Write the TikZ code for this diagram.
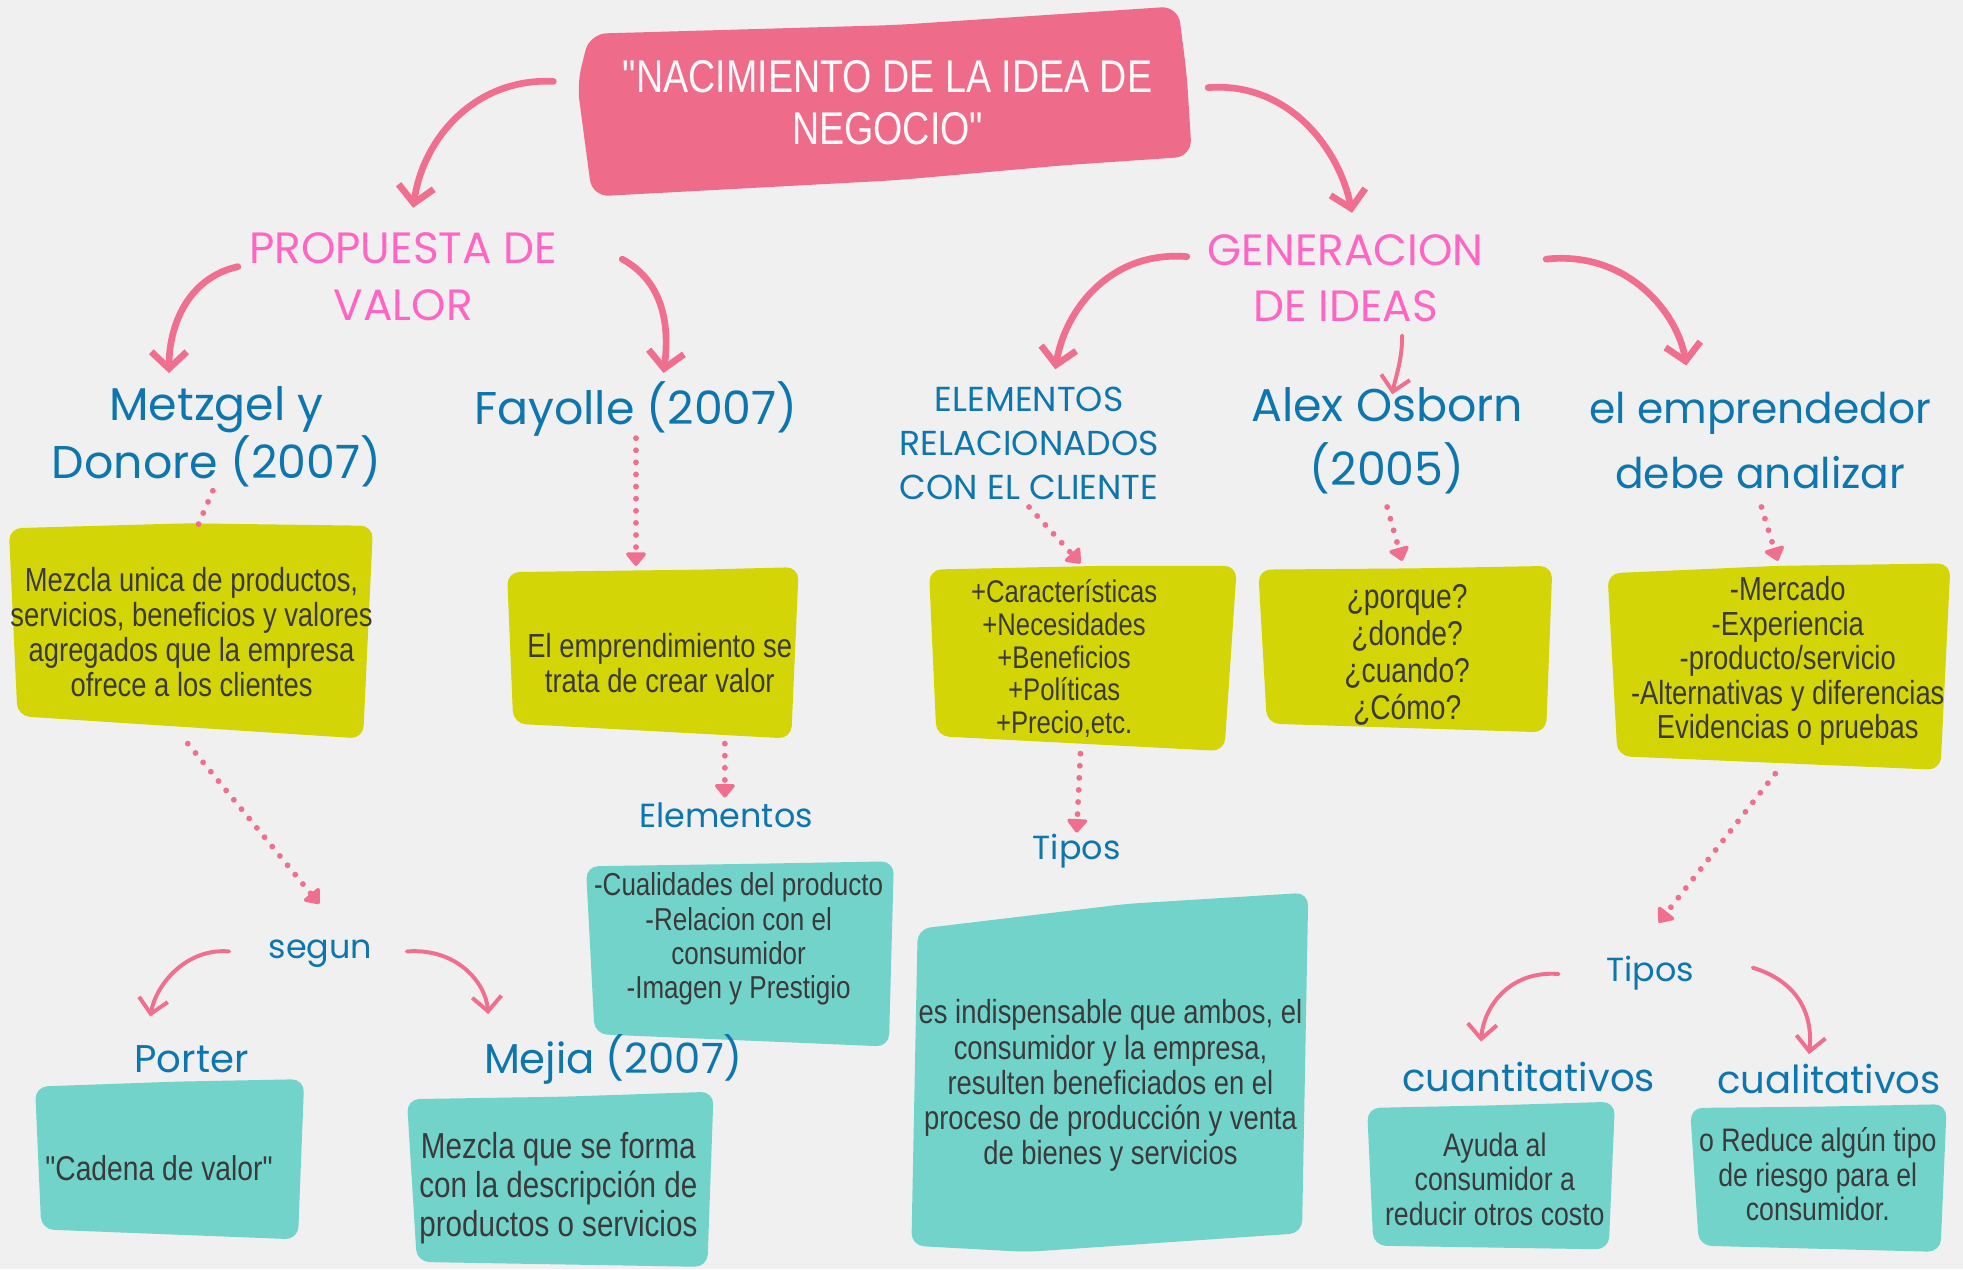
\documentclass[tikz,border=0pt]{standalone}
\usepackage{fontspec}
\usetikzlibrary{arrows.meta}
\newfontfamily\bodyfont{Liberation Sans}[FakeStretch=0.82]
\newfontfamily\headfont{Poppins}
\definecolor{bggray}{RGB}{240,240,240}
\definecolor{titlepink}{RGB}{239,107,138}
\definecolor{arrpink}{RGB}{240,110,142}
\definecolor{headpink}{RGB}{255,102,196}
\definecolor{headblue}{RGB}{14,118,174}
\definecolor{boxyellow}{RGB}{212,213,6}
\definecolor{boxteal}{RGB}{114,211,202}
\definecolor{textgray}{RGB}{58,58,58}

\tikzset{
  maintitle/.style={text=white!96!gray, inner sep=0pt, align=center, font=\bodyfont\fontsize{22}{24.6}\selectfont},
  pinkhead/.style={text=headpink, inner sep=0pt, align=center, font=\headfont\fontsize{21}{27}\selectfont},
  bluehead/.style={text=headblue, inner sep=0pt, align=center, font=\headfont\fontsize{22}{31}\selectfont},
  bluecaps/.style={text=headblue, inner sep=0pt, align=center, font=\headfont\fontsize{16.6}{21}\selectfont},
  bluemid/.style={text=headblue, inner sep=0pt, font=\headfont\fontsize{18.5}{20}\selectfont},
  bluesmall/.style={text=headblue, inner sep=0pt, font=\headfont\fontsize{16}{18}\selectfont},
  boxtext/.style={text=textgray, inner sep=0pt, align=center, font=\bodyfont\fontsize{16}{16.8}\selectfont},
  bigarr/.style={draw=arrpink, line width=3.2pt, line cap=round, -{Straight Barb[length=8pt,width=17pt]}},
  thinarr/.style={draw=arrpink, line width=1.9pt, line cap=round, -{Straight Barb[length=7pt,width=14pt]}},
  dotline/.style={draw=arrpink, line width=2.8pt, line cap=round, dash pattern=on 0pt off 5.8pt},
  dotarr/.style={dotline, -{Triangle[length=7pt,width=11pt,round]}}
}

\begin{document}
\begin{tikzpicture}[x=0.6pt, y=-0.6pt]

  \useasboundingbox (0,0) rectangle (1568,1014);
  \fill[bggray] (0,0) rectangle (1568,1014);

  %% rough boxes
  \fill[titlepink, rounded corners=8pt] (471,27) -- (715,20) -- (941,5) -- (948,60) -- (952,125) -- (850,132) -- (715,144) -- (473,157) -- (461,67) -- cycle;

  \fill[boxyellow, rounded corners=6pt] (7,422) -- (150,418) -- (298,420) -- (290,590) -- (14,572) -- cycle;
  \fill[boxyellow, rounded corners=6pt] (405,457) -- (560,455) -- (638,453) -- (632,590) -- (410,578) -- cycle;
  \fill[boxyellow, rounded corners=6pt] (742,455) -- (880,452) -- (988,452) -- (978,600) -- (748,588) -- cycle;
  \fill[boxyellow, rounded corners=6pt] (1005,455) -- (1130,454) -- (1240,452) -- (1235,585) -- (1012,578) -- cycle;
  \fill[boxyellow, rounded corners=6pt] (1284,458) -- (1420,452) -- (1558,450) -- (1550,615) -- (1292,604) -- cycle;

  \fill[boxteal, rounded corners=6pt] (468,692) -- (600,690) -- (714,688) -- (710,836) -- (475,826) -- cycle;
  \fill[boxteal, rounded corners=6pt] (733,742) -- (900,722) -- (1045,713) -- (1040,985) -- (820,1000) -- (728,995) -- cycle;
  \fill[boxteal, rounded corners=6pt] (28,868) -- (140,864) -- (243,862) -- (238,990) -- (33,982) -- cycle;
  \fill[boxteal, rounded corners=6pt] (325,878) -- (450,876) -- (570,872) -- (565,1012) -- (333,1008) -- cycle;
  \fill[boxteal, rounded corners=6pt] (1092,885) -- (1190,883) -- (1290,880) -- (1285,998) -- (1097,995) -- cycle;
  \fill[boxteal, rounded corners=6pt] (1350,885) -- (1450,884) -- (1555,882) -- (1550,1000) -- (1357,995) -- cycle;

  %% headings
  \node[maintitle] (title) at (709,82) {"NACIMIENTO DE LA IDEA DE\\NEGOCIO"};

  \node[pinkhead] (prop) at (322,221) {PROPUESTA DE\\VALOR};
  \node[pinkhead] (gen) at (1075,222) {GENERACION\\DE IDEAS};

  \node[bluehead, font=\headfont\fontsize{22}{23.4}\selectfont] (metz) at (173,349) {Metzgel y\\Donore (2007)};
  \node[bluehead] (fay) at (508,327) {Fayolle (2007)};
  \node[bluecaps] (elrel) at (822,354) {ELEMENTOS\\RELACIONADOS\\CON EL CLIENTE};
  \node[bluehead] (alex) at (1108,352) {Alex Osborn\\(2005)};
  \node[bluehead, font=\headfont\fontsize{20.3}{31}\selectfont] (emp) at (1406,352) {el emprendedor\\debe analizar};

  \node[bluesmall] (segun) at (256,762) {segun};
  \node[bluesmall] (elem) at (580,651) {Elementos};
  \node[bluesmall] (tipos1) at (860,680) {Tipos};
  \node[bluesmall] (tipos2) at (1318,777) {Tipos};
  \node[bluemid] (porter) at (153,846) {Porter};
  \node[bluemid, font=\headfont\fontsize{20}{20}\selectfont] (mejia) at (490,846) {Mejia (2007)};
  \node[bluemid] (cuant) at (1221,860) {cuantitativos};
  \node[bluemid] (cual) at (1461,862) {cualitativos};

  %% box texts
  \node[boxtext] (b1) at (153,505) {Mezcla unica de productos,\\servicios, beneficios y valores\\agregados que la empresa\\ofrece a los clientes};
  \node[boxtext] (b2) at (527,530) {El emprendimiento se\\trata de crear valor};
  \node[boxtext, font=\bodyfont\fontsize{15}{15.6}\selectfont] (b3) at (850,526) {+Características\\+Necesidades\\+Beneficios\\+Políticas\\+Precio,etc.};
  \node[boxtext, font=\bodyfont\fontsize{16.5}{17.7}\selectfont] (b4) at (1124,523) {¿porque?\\¿donde?\\¿cuando?\\¿Cómo?};
  \node[boxtext, font=\bodyfont\fontsize{16}{16.6}\selectfont] (b5) at (1428,528) {-Mercado\\-Experiencia\\-producto/servicio\\-Alternativas y diferencias\\Evidencias o pruebas};

  \node[boxtext, font=\bodyfont\fontsize{15.2}{16.4}\selectfont] (t1) at (590,750) {-Cualidades del producto\\-Relacion con el\\consumidor\\-Imagen y Prestigio};
  \node[boxtext] (t2) at (887,867) {es indispensable que ambos, el\\consumidor y la empresa,\\resulten beneficiados en el\\proceso de producción y venta\\de bienes y servicios};
  \node[boxtext, font=\bodyfont\fontsize{16.5}{17}\selectfont] (t3) at (127,933) {"Cadena de valor"};
  \node[boxtext, font=\bodyfont\fontsize{17.3}{18.6}\selectfont] (t4) at (446,949) {Mezcla que se forma\\con la descripción de\\productos o servicios};
  \node[boxtext, font=\bodyfont\fontsize{15.6}{16.5}\selectfont] (t5) at (1194,942) {Ayuda al\\consumidor a\\reducir otros costo};
  \node[boxtext, font=\bodyfont\fontsize{15.6}{16.5}\selectfont] (t6) at (1452,938) {o Reduce algún tipo\\de riesgo para el\\consumidor.};

  %% curved arrows
  \draw[bigarr] ([shift={(-267,-17)}]title.center) .. controls +(-62,-3) and +(8,-56) .. ([shift={(8,-55)}]prop.center); %% title->prop
  \draw[bigarr] ([shift={(256,-12)}]title.center) .. controls +(65,-5) and +(-10,-50) .. ([shift={(5,-52)}]gen.center); %% title->gen
  \draw[bigarr] ([shift={(-132,-8)}]prop.center) .. controls +(-40,9) and +(0,-38) .. ([shift={(-38,-51)}]metz.center); %% prop->metz
  \draw[bigarr] ([shift={(175,-14)}]prop.center) .. controls +(33,18) and +(5,-38) .. ([shift={(22,-29)}]fay.center); %% prop->fay
  \draw[bigarr] ([shift={(-127,-17)}]gen.center) .. controls +(-63,-5) and +(7,-45) .. ([shift={(21,-59)}]elrel.center); %% gen->elrel
  \draw[thinarr] ([shift={(45,46)}]gen.center) .. controls +(0,20) and +(3,-15) .. ([shift={(4,-37)}]alex.center); %% gen->alex
  \draw[bigarr] ([shift={(160,-15)}]gen.center) .. controls +(65,-7) and +(-7,-42) .. ([shift={(-59,-60)}]emp.center); %% gen->emp

  \draw[thinarr] ([shift={(-73,-2)}]segun.center) .. controls +(-33,-3) and +(5,-27) .. ([shift={(-33,-34)}]porter.center); %% segun->porter
  \draw[thinarr] ([shift={(69,-2)}]segun.center) .. controls +(40,-3) and +(-2,-25) .. ([shift={(-100,-36)}]mejia.center); %% segun->mejia
  \draw[thinarr] ([shift={(-73,1)}]tipos2.center) .. controls +(-40,-3) and +(2,-27) .. ([shift={(-38,-28)}]cuant.center); %% tipos->cuant
  \draw[thinarr] ([shift={(82,-4)}]tipos2.center) .. controls +(40,12) and +(3,-27) .. ([shift={(-16,-20)}]cual.center); %% tipos->cual

  %% dotted arrows
  \draw[dotline] ([shift={(-3,43)}]metz.center) -- ([shift={(5,-85)}]b1.center); %% metz->b1
  \draw[dotarr] ([shift={(0,23)}]fay.center) -- ([shift={(-19,-78)}]b2.center); %% fay->b2
  \draw[dotarr] ([shift={(-3,89)}]b1.center) -- ([shift={(-1,-40)}]segun.center); %% b1->segun
  \draw[dotarr] ([shift={(52,64)}]b2.center) -- ([shift={(-1,-14)}]elem.center); %% b2->elem
  \draw[dotarr] ([shift={(0,51)}]elrel.center) -- ([shift={(13,-76)}]b3.center); %% elrel->b3
  \draw[dotarr] ([shift={(13,76)}]b3.center) -- ([shift={(0,-15)}]tipos1.center); %% b3->tipos
  \draw[dotarr] ([shift={(0,53)}]alex.center) -- ([shift={(-4,-75)}]b4.center); %% alex->b4
  \draw[dotarr] ([shift={(1,53)}]emp.center) -- ([shift={(-8,-80)}]b5.center); %% emp->b5
  \draw[dotarr] ([shift={(-10,90)}]b5.center) -- ([shift={(7,-40)}]tipos2.center); %% b5->tipos

\end{tikzpicture}
\end{document}
